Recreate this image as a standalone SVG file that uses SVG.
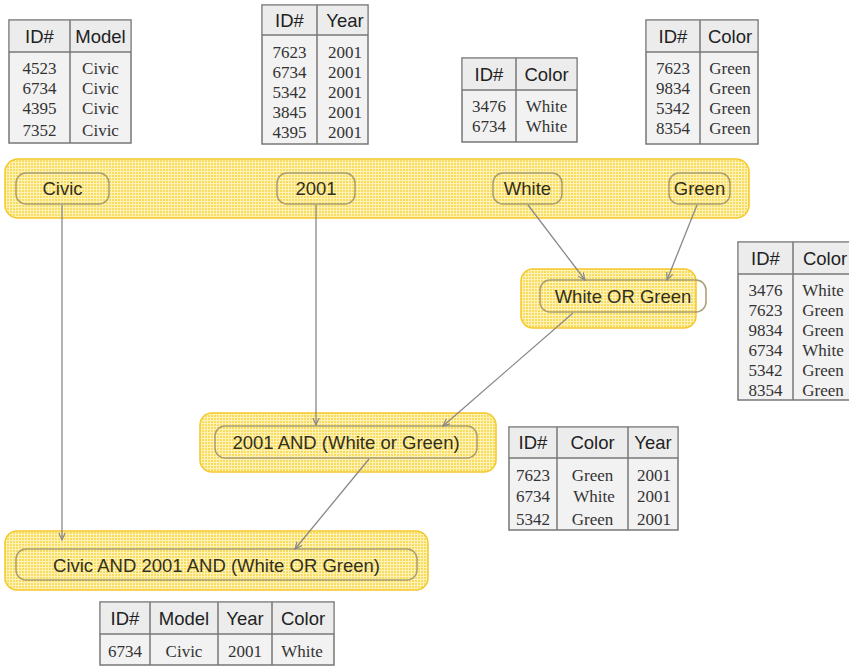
<svg xmlns="http://www.w3.org/2000/svg" width="849" height="666" viewBox="0 0 849 666">
<defs>
<pattern id="grid" width="3" height="3" patternUnits="userSpaceOnUse">
<rect width="3" height="3" fill="#f8dc5e"/>
<path d="M0 0.5H3M0.5 0V3" stroke="#fff2b8" stroke-width="1"/>
</pattern>
<marker id="arr" viewBox="0 0 10 10" refX="9" refY="5" markerWidth="8" markerHeight="8" orient="auto" markerUnits="userSpaceOnUse">
<path d="M0 1L9 5L0 9" fill="none" stroke="#888" stroke-width="1.5"/>
</marker>
<style>
.band{fill:url(#grid);stroke:#f5c82a;stroke-width:1.5}
.node{fill:none;stroke:#a89d70;stroke-width:1.5}
.nt{font-family:"Liberation Sans",Arial,sans-serif;font-size:18.5px;fill:#33301a;text-anchor:middle}
.tb{fill:#f2f2f2;stroke:#777;stroke-width:1.5}
.th{fill:#ececec}
.tl{stroke:#777;stroke-width:1.5}
.hd{font-family:"Liberation Sans",Arial,sans-serif;font-size:18.5px;fill:#222;text-anchor:middle}
.cd{font-family:"Liberation Serif","Times New Roman",serif;font-size:17px;fill:#333;text-anchor:middle}
.con{stroke:#888;stroke-width:1.3;fill:none;marker-end:url(#arr)}
</style>
</defs>

<!-- Tables -->
<g id="table-model">
<rect class="tb" x="9" y="20" width="122" height="123"/>
<rect class="th" x="9.75" y="20.75" width="120.5" height="30.5"/>
<line class="tl" x1="9" y1="52" x2="131" y2="52"/>
<line class="tl" x1="70" y1="20" x2="70" y2="143"/>
<text class="hd" x="39.5" y="43">ID#</text><text class="hd" x="100.5" y="43">Model</text>
<text class="cd" x="39.5" y="74">4523</text><text class="cd" x="100.5" y="74">Civic</text>
<text class="cd" x="39.5" y="94">6734</text><text class="cd" x="100.5" y="94">Civic</text>
<text class="cd" x="39.5" y="114">4395</text><text class="cd" x="100.5" y="114">Civic</text>
<text class="cd" x="39.5" y="136">7352</text><text class="cd" x="100.5" y="136">Civic</text>
</g>

<g id="table-year">
<rect class="tb" x="262" y="5" width="106" height="139"/>
<rect class="th" x="262.75" y="5.75" width="104.5" height="28"/>
<line class="tl" x1="262" y1="35" x2="368" y2="35"/>
<line class="tl" x1="317" y1="5" x2="317" y2="144"/>
<text class="hd" x="289.5" y="27">ID#</text><text class="hd" x="345" y="27">Year</text>
<text class="cd" x="289.5" y="58">7623</text><text class="cd" x="345" y="58">2001</text>
<text class="cd" x="289.5" y="78">6734</text><text class="cd" x="345" y="78">2001</text>
<text class="cd" x="289.5" y="98">5342</text><text class="cd" x="345" y="98">2001</text>
<text class="cd" x="289.5" y="118">3845</text><text class="cd" x="345" y="118">2001</text>
<text class="cd" x="289.5" y="138">4395</text><text class="cd" x="345" y="138">2001</text>
</g>

<g id="table-white">
<rect class="tb" x="462" y="58" width="115" height="84"/>
<rect class="th" x="462.75" y="58.75" width="113.5" height="30"/>
<line class="tl" x1="462" y1="90" x2="577" y2="90"/>
<line class="tl" x1="516" y1="58" x2="516" y2="142"/>
<text class="hd" x="489" y="81">ID#</text><text class="hd" x="546.5" y="81">Color</text>
<text class="cd" x="489" y="112">3476</text><text class="cd" x="546.5" y="112">White</text>
<text class="cd" x="489" y="132">6734</text><text class="cd" x="546.5" y="132">White</text>
</g>

<g id="table-green">
<rect class="tb" x="646" y="20" width="112" height="124"/>
<rect class="th" x="646.75" y="20.75" width="110.5" height="30.5"/>
<line class="tl" x1="646" y1="52" x2="758" y2="52"/>
<line class="tl" x1="700" y1="20" x2="700" y2="144"/>
<text class="hd" x="673" y="43">ID#</text><text class="hd" x="730" y="43">Color</text>
<text class="cd" x="673" y="74">7623</text><text class="cd" x="730" y="74">Green</text>
<text class="cd" x="673" y="94">9834</text><text class="cd" x="730" y="94">Green</text>
<text class="cd" x="673" y="114">5342</text><text class="cd" x="730" y="114">Green</text>
<text class="cd" x="673" y="134">8354</text><text class="cd" x="730" y="134">Green</text>
</g>

<g id="table-whiteorgreen">
<rect class="tb" x="738" y="242" width="120" height="158"/>
<rect class="th" x="738.75" y="242.75" width="118.5" height="30"/>
<line class="tl" x1="738" y1="274" x2="858" y2="274"/>
<line class="tl" x1="793" y1="242" x2="793" y2="400"/>
<text class="hd" x="765.5" y="265">ID#</text><text class="hd" x="825" y="265">Color</text>
<text class="cd" x="765.5" y="296">3476</text><text class="cd" x="823" y="296">White</text>
<text class="cd" x="765.5" y="316">7623</text><text class="cd" x="823" y="316">Green</text>
<text class="cd" x="765.5" y="336">9834</text><text class="cd" x="823" y="336">Green</text>
<text class="cd" x="765.5" y="356">6734</text><text class="cd" x="823" y="356">White</text>
<text class="cd" x="765.5" y="376">5342</text><text class="cd" x="823" y="376">Green</text>
<text class="cd" x="765.5" y="396">8354</text><text class="cd" x="823" y="396">Green</text>
</g>

<g id="table-and">
<rect class="tb" x="509" y="427" width="169" height="103"/>
<rect class="th" x="509.75" y="427.75" width="167.5" height="29.5"/>
<line class="tl" x1="509" y1="458" x2="678" y2="458"/>
<line class="tl" x1="557" y1="427" x2="557" y2="530"/>
<line class="tl" x1="628" y1="427" x2="628" y2="530"/>
<text class="hd" x="533" y="449">ID#</text><text class="hd" x="592.5" y="449">Color</text><text class="hd" x="653" y="449">Year</text>
<text class="cd" x="533" y="481">7623</text><text class="cd" x="592.5" y="481">Green</text><text class="cd" x="654" y="481">2001</text>
<text class="cd" x="533" y="502">6734</text><text class="cd" x="594" y="502">White</text><text class="cd" x="654" y="502">2001</text>
<text class="cd" x="533" y="525">5342</text><text class="cd" x="592.5" y="525">Green</text><text class="cd" x="654" y="525">2001</text>
</g>

<g id="table-result">
<rect class="tb" x="100" y="602" width="234" height="63"/>
<rect class="th" x="100.75" y="602.75" width="232.5" height="30.5"/>
<line class="tl" x1="100" y1="634" x2="334" y2="634"/>
<line class="tl" x1="150" y1="602" x2="150" y2="665"/>
<line class="tl" x1="218" y1="602" x2="218" y2="665"/>
<line class="tl" x1="272" y1="602" x2="272" y2="665"/>
<text class="hd" x="125" y="625">ID#</text><text class="hd" x="184" y="625">Model</text><text class="hd" x="245" y="625">Year</text><text class="hd" x="303" y="625">Color</text>
<text class="cd" x="125" y="657">6734</text><text class="cd" x="184" y="657">Civic</text><text class="cd" x="245" y="657">2001</text><text class="cd" x="302" y="657">White</text>
</g>

<!-- Bands and nodes -->
<g id="band-top">
<rect class="band" x="5" y="159" width="744" height="59" rx="13"/>
</g>
<g id="node-civic">
<rect class="node" x="16" y="173" width="93" height="31" rx="10"/>
<text class="nt" x="62.5" y="195">Civic</text>
</g>
<g id="node-2001">
<rect class="node" x="277" y="173" width="78" height="31" rx="10"/>
<text class="nt" x="316" y="195">2001</text>
</g>
<g id="node-white">
<rect class="node" x="493" y="173" width="69" height="31" rx="10"/>
<text class="nt" x="527.5" y="195">White</text>
</g>
<g id="node-green">
<rect class="node" x="669" y="173" width="61" height="31" rx="10"/>
<text class="nt" x="699.5" y="195">Green</text>
</g>
<g id="node-whiteorgreen">
<rect class="band" x="521" y="269" width="175" height="59" rx="12"/>
<rect class="node" x="540" y="280" width="166" height="32" rx="10"/>
<text class="nt" x="623" y="303">White OR Green</text>
</g>
<g id="node-2001and">
<rect class="band" x="200" y="413" width="296" height="59" rx="12"/>
<rect class="node" x="215" y="426" width="262" height="32" rx="10"/>
<text class="nt" x="346" y="449">2001 AND (White or Green)</text>
</g>
<g id="node-final">
<rect class="band" x="5" y="531" width="423" height="59" rx="12"/>
<rect class="node" x="16" y="549" width="401" height="31" rx="10"/>
<text class="nt" x="216.5" y="572">Civic AND 2001 AND (White OR Green)</text>
</g>

<!-- Connectors -->
<g id="connectors">
<line class="con" x1="62" y1="205" x2="62" y2="540"/>
<line class="con" x1="316" y1="205" x2="316" y2="425"/>
<line class="con" x1="528" y1="205" x2="585" y2="280"/>
<line class="con" x1="697" y1="205" x2="667" y2="280"/>
<line class="con" x1="573" y1="313" x2="443" y2="426"/>
<line class="con" x1="369" y1="459" x2="295" y2="549"/>
</g>
</svg>
